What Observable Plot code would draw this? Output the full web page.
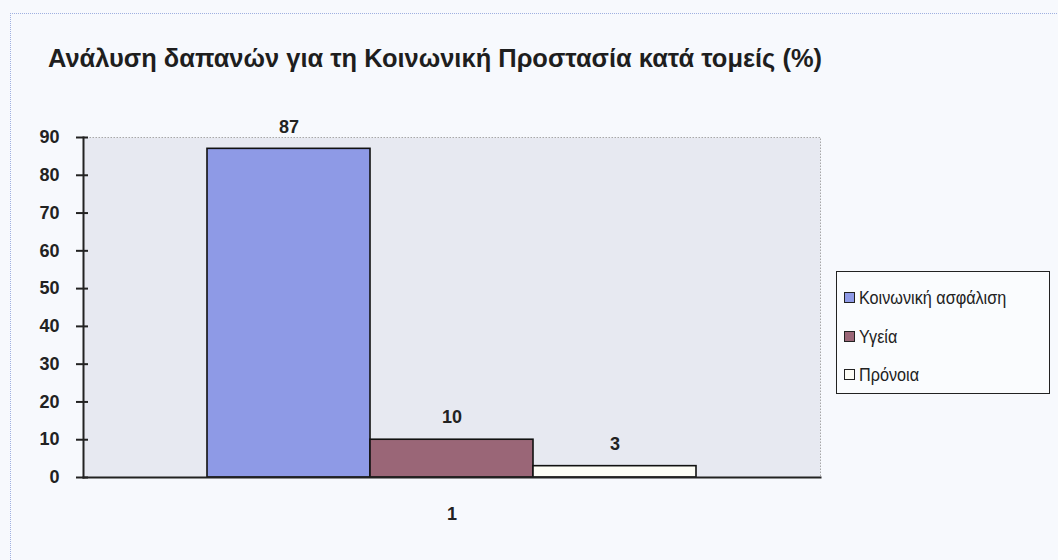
<!DOCTYPE html>
<html><head><meta charset="utf-8">
<script src="https://cdn.jsdelivr.net/npm/d3@7"></script>
<script src="https://cdn.jsdelivr.net/npm/@observablehq/plot@0.6"></script>
<style>
html,body{margin:0;padding:0;background:#f7f9fd;}
#wrap{position:relative;width:1058px;height:560px;overflow:hidden;background:#f7f9fd;}
#border{position:absolute;left:10px;top:13px;width:1060px;height:560px;border-top:1px dotted #9fb0e0;border-left:1px dotted #9fb0e0;}
#title{position:absolute;left:48px;top:43px;font-family:"Liberation Sans",Arial,sans-serif;font-weight:bold;font-size:26px;color:#1e1e1e;white-space:nowrap;transform-origin:0 0;}
#legend{position:absolute;left:836px;top:271px;width:212px;height:121px;border:1.5px solid #222;background:#fafcfe;font-family:"Liberation Sans",Arial,sans-serif;font-size:18px;color:#222;}
#legend .item{position:absolute;left:7px;height:20px;line-height:20px;white-space:nowrap;}
#legend .sw{display:inline-block;width:9px;height:9px;border:1.3px solid #222;margin-right:4px;vertical-align:1px;}
#legend .lbl{display:inline-block;transform-origin:0 50%;}
#chart{position:absolute;left:0;top:0;}
</style></head>
<body><div id="wrap"><div id="border"></div><div id="chart"></div><div id="title"></div><div id="legend"></div></div>
<script>
const title = "Ανάλυση δαπανών για τη Κοινωνική Προστασία κατά τομείς (%)";
const categories = ["1"];
const series = ["Κοινωνική ασφάλιση", "Υγεία", "Πρόνοια"];
const values = [87, 10, 3];
const colors = ["#8e9ae6", "#9a6677", "#fdfdf6"];
const yTicks = [0, 10, 20, 30, 40, 50, 60, 70, 80, 90];

const data = series.map((s, i) => ({cat: categories[0], series: s, value: values[i]}));

const titleEl = document.getElementById("title");
titleEl.textContent = title;
const tw = titleEl.getBoundingClientRect().width;
titleEl.style.transform = `scaleX(${774 / tw})`;

const legend = document.getElementById("legend");
series.forEach((s, i) => {
  const it = document.createElement("div");
  it.className = "item";
  it.style.top = (16 + i * 38.5) + "px";
  const sw = document.createElement("span");
  sw.className = "sw";
  sw.style.background = colors[i];
  it.appendChild(sw);
  const lbl = document.createElement("span");
  lbl.className = "lbl";
  lbl.textContent = s;
  lbl.style.transform = "scaleX(0.9)";
  it.appendChild(lbl);
  legend.appendChild(it);
});

const font = '"Liberation Sans",Arial,sans-serif';
const chart = Plot.plot({
  width: 1058,
  height: 560,
  marginTop: 137,
  marginBottom: 83,
  marginLeft: 83,
  marginRight: 238,
  style: {background: "transparent", fontFamily: font, fontSize: "18px", fontWeight: "bold", color: "#222"},
  fx: {domain: categories, padding: 0, label: null, axis: null},
  x: {domain: series, padding: 0, insetLeft: 123, insetRight: 123, axis: null},
  y: {domain: [0, 90], axis: null},
  color: {domain: series, range: colors},
  marks: [
    Plot.frame({fill: "#e7e9f1", stroke: "#a8a8a8", strokeDasharray: "1.5,1.5"}),
    Plot.barY(data, {fx: "cat", x: "series", y: "value", fill: "series", stroke: "#111", strokeWidth: 1.6}),
    Plot.text(data, {fx: "cat", x: "series", y: "value", text: d => String(d.value), dy: -22, fill: "#222"}),
    Plot.frame({anchor: "left", stroke: "#222", strokeWidth: 2}),
    Plot.frame({anchor: "bottom", stroke: "#222", strokeWidth: 2}),
    Plot.axisY(yTicks, {tickSize: 7, tickPadding: 17, label: null, stroke: "#222", strokeWidth: 2, fill: "#222"}),
    Plot.axisY(yTicks, {tickSize: -5, tickFormat: () => "", label: null, stroke: "#222", strokeWidth: 2}),
    Plot.axisFx({anchor: "bottom", tickSize: 0, tickPadding: 30, label: null, fill: "#222"})
  ]
});
document.getElementById("chart").appendChild(chart);
</script>
</body></html>
